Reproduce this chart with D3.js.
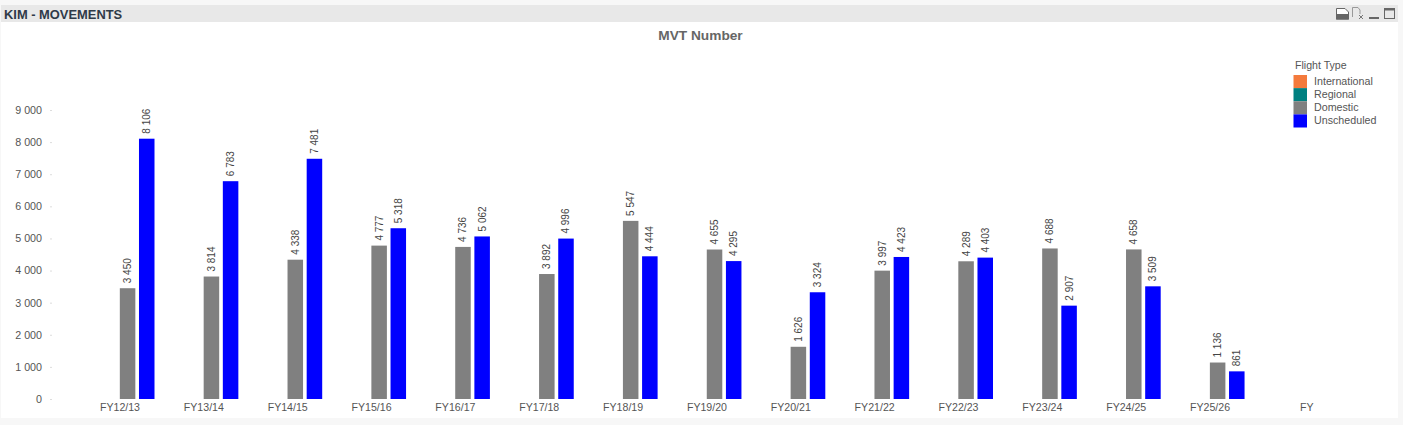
<!DOCTYPE html>
<html><head><meta charset="utf-8">
<script src="https://cdn.jsdelivr.net/npm/d3@7/dist/d3.min.js"></script>
<style>
html,body{margin:0;padding:0;background:#fff;overflow:hidden}
svg{display:block;font-family:"Liberation Sans",Arial,sans-serif}
</style></head><body>
<svg id="c" width="1403" height="425"></svg>
<script>
const categories=["FY12/13","FY13/14","FY14/15","FY15/16","FY16/17","FY17/18","FY18/19","FY19/20","FY20/21","FY21/22","FY22/23","FY23/24","FY24/25","FY25/26","FY"];
const seriesNames=["International","Regional","Domestic","Unscheduled"];
const seriesColors=["#f47a3c","#008080","#808080","#0000ff"];
const domestic=[3450,3814,4338,4777,4736,3892,5547,4655,1626,3997,4289,4688,4658,1136,null];
const unscheduled=[8106,6783,7481,5318,5062,4996,4444,4295,3324,4423,4403,2907,3509,861,null];
const yTicks=[0,1000,2000,3000,4000,5000,6000,7000,8000,9000];
const svg=d3.select("#c");
const fmt=v=>{const s=String(v);return s.length>3?s.slice(0,-3)+" "+s.slice(-3):s;};

// panel frame
svg.append("rect").attr("x",0).attr("y",0).attr("width",1403).attr("height",425).attr("fill","#f7f7f7");
svg.append("rect").attr("x",1).attr("y",5).attr("width",1397).attr("height",413).attr("fill","#fff");
svg.append("rect").attr("x",1).attr("y",5).attr("width",1397).attr("height",17).attr("fill","#e8e8e8");
svg.append("text").attr("x",4).attr("y",19).attr("font-size",12.9).attr("font-weight","bold").attr("fill","#2f3a48").text("KIM - MOVEMENTS");
svg.append("text").attr("x",700.5).attr("y",40).attr("text-anchor","middle").attr("font-size",13.7).attr("font-weight","bold").attr("fill","#666").text("MVT Number");

// window icons
const ic=svg.append("g").attr("fill","none").attr("stroke","#666");
ic.append("path").attr("d","M1336.5 19V8.5H1345L1348.5 12V19Z").attr("fill","#fff");
ic.append("rect").attr("x",1336).attr("y",14).attr("width",13).attr("height",5.5).attr("fill","#666").attr("stroke","none");
ic.append("path").attr("d","M1352.5 17V7.5H1358L1360 10V14").attr("stroke","#999");
ic.append("path").attr("d","M1359 15L1363 19M1363 15L1359 19").attr("stroke","#777");
ic.append("rect").attr("x",1369).attr("y",17).attr("width",10).attr("height",2).attr("fill","#666").attr("stroke","none");
ic.append("rect").attr("x",1384.5).attr("y",8.5).attr("width",10).attr("height",10);
ic.append("rect").attr("x",1384).attr("y",8).attr("width",11).attr("height",2.5).attr("fill","#666").attr("stroke","none");

// scales
const step=83.85, x0Start=120-step/2;
const x=d3.scaleBand().domain(categories).range([x0Start,x0Start+step*categories.length]).padding(0);
const inner=d3.scaleBand().domain(seriesNames).range([-38.5,34.5]).paddingInner(0.19).paddingOuter(0);
const y=d3.scaleLinear().domain([0,9000]).range([399,110]);
const cx=c=>x(c)+x.bandwidth()/2;

// y axis
const yG=svg.append("g").attr("transform","translate(50,0)").call(d3.axisLeft(y).tickValues(yTicks).tickFormat(fmt).tickSize(2).tickPadding(6));
yG.select(".domain").remove();
yG.selectAll("line").attr("stroke","#ddd").attr("transform","translate(2,0)");
yG.selectAll("text").attr("font-size",10.7).attr("font-family","Liberation Sans").attr("fill","#555");

// x axis labels
const xG=svg.append("g").attr("transform","translate(0,399)").call(d3.axisBottom(x).tickSize(0).tickPadding(4.5));
xG.select(".domain").remove();
xG.selectAll("text").attr("font-size",10.6).attr("font-family","Liberation Sans").attr("fill","#555")
  .attr("dx",d=>d==="FY"?13:0);

// bars
[["Domestic",domestic],["Unscheduled",unscheduled]].forEach(([name,vals])=>{
  const col=seriesColors[seriesNames.indexOf(name)];
  const rows=categories.map((c,i)=>({c,v:vals[i]})).filter(d=>d.v!=null);
  const bx=d=>cx(d.c)+inner(name);
  const w=inner.bandwidth();
  svg.append("g").selectAll("rect").data(rows).join("rect")
    .attr("x",bx).attr("y",d=>y(d.v)).attr("width",w).attr("height",d=>y(0)-y(d.v)).attr("fill",col);
  svg.append("g").selectAll("text").data(rows).join("text")
    .attr("transform",d=>`translate(${bx(d)+w/2+3.5},${y(d.v)-5}) rotate(-90)`)
    .attr("font-size",10).attr("fill","#444").text(d=>fmt(d.v));
});

// legend
const lg=svg.append("g");
lg.append("text").attr("x",1295).attr("y",69).attr("font-size",10.6).attr("fill","#555").text("Flight Type");
const ly=d3.scaleBand().domain(seriesNames).range([75,127.5]);
lg.selectAll("rect").data(seriesNames).join("rect").attr("x",1293.5).attr("y",d=>ly(d)).attr("width",13.5).attr("height",ly.bandwidth())
  .attr("fill",(d,i)=>seriesColors[i]);
lg.selectAll("text.l").data(seriesNames).join("text").attr("class","l").attr("x",1314).attr("y",d=>ly(d)+ly.bandwidth()/2+3.5)
  .attr("font-size",10.7).attr("fill","#555").text(d=>d);
</script></body></html>
